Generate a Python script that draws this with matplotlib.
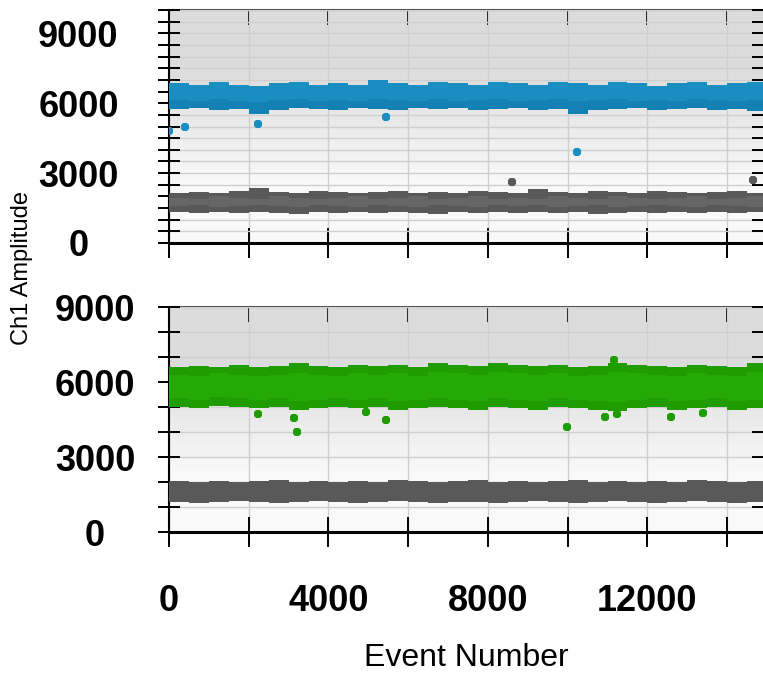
import numpy as np
import matplotlib.pyplot as plt
from matplotlib.ticker import MultipleLocator

# ---------------------------------------------------------------------------
# Data (event number vs Ch1 amplitude)
# Dense droplet clouds are kept as band edges sampled every 500 events.
# ---------------------------------------------------------------------------
BAND_X = [0, 500, 1000, 1500, 2000, 2500, 3000, 3500, 4000, 4500, 5000, 5500,
          6000, 6500, 7000, 7500, 8000, 8500, 9000, 9500, 10000, 10500, 11000,
          11500, 12000, 12500, 13000, 13500, 14000, 14500, 15000]

# top panel: positive (blue) cloud
BLUE_HI = [6850, 6800, 6900, 6800, 6750, 6850, 6900, 6800, 6850, 6800, 7000,
           6850, 6800, 6900, 6850, 6800, 6900, 6850, 6800, 6900, 6850, 6800,
           6900, 6850, 6750, 6850, 6900, 6800, 6850, 6900, 6850]
BLUE_MID = [6150, 6100, 6200, 6100, 6050, 6150, 6200, 6100, 6150, 6100, 6200,
            6150, 6100, 6200, 6100, 6150, 6200, 6100, 6150, 6200, 6100, 6150,
            6200, 6100, 6150, 6100, 6200, 6150, 6100, 6150, 6200]
BLUE_LO = [5750, 5800, 5700, 5750, 5550, 5700, 5800, 5750, 5700, 5800, 5750,
           5700, 5800, 5750, 5800, 5700, 5750, 5800, 5700, 5750, 5550, 5700,
           5750, 5800, 5700, 5750, 5800, 5700, 5750, 5650, 5700]
BLUE_OUT_X = [0, 400, 2230, 5450, 10230]
BLUE_OUT_Y = [4800, 4980, 5100, 5400, 3900]

# top panel: negative (gray) cloud
GRAY1_HI = [2150, 2200, 2150, 2250, 2350, 2200, 2150, 2250, 2200, 2150, 2200,
            2250, 2150, 2200, 2150, 2250, 2200, 2150, 2300, 2200, 2150, 2250,
            2200, 2150, 2250, 2200, 2150, 2200, 2250, 2150, 2200]
GRAY1_LIGHT_HI = [1950, 1900, 2000, 1950, 1900, 2000, 1950, 1900, 1950, 2000,
                  1900, 1950, 2000, 1900, 1950, 2000, 1900, 1950, 1900, 2000,
                  1950, 1900, 2000, 1950, 1900, 1950, 2000, 1900, 1950, 2000, 1950]
GRAY1_LIGHT_LO = [1600, 1650, 1550, 1600, 1650, 1600, 1550, 1650, 1600, 1550,
                  1650, 1600, 1550, 1650, 1600, 1550, 1650, 1600, 1650, 1550,
                  1600, 1650, 1550, 1600, 1650, 1600, 1550, 1650, 1600, 1550, 1600]
GRAY1_LO = [1350, 1300, 1350, 1300, 1350, 1300, 1250, 1350, 1300, 1350, 1300,
            1350, 1300, 1250, 1350, 1300, 1350, 1300, 1350, 1300, 1350, 1250,
            1300, 1350, 1300, 1350, 1300, 1350, 1300, 1350, 1300]
GRAY1_OUT_X = [8600, 14650]
GRAY1_OUT_Y = [2620, 2700]

# bottom panel: positive (green) cloud
GREEN_HI = [6600, 6650, 6600, 6700, 6600, 6650, 6750, 6650, 6600, 6700, 6650,
            6700, 6600, 6750, 6700, 6650, 6750, 6700, 6650, 6700, 6600, 6650,
            6750, 6700, 6650, 6600, 6700, 6650, 6600, 6750, 6650]
GREEN_CORE_HI = [6300, 6250, 6350, 6300, 6250, 6300, 6350, 6300, 6250, 6350,
                 6300, 6350, 6250, 6400, 6350, 6300, 6400, 6350, 6300, 6350,
                 6250, 6300, 6400, 6350, 6300, 6250, 6350, 6300, 6250, 6400, 6300]
GREEN_CORE_LO = [5350, 5300, 5400, 5350, 5300, 5350, 5250, 5300, 5350, 5300,
                 5350, 5250, 5300, 5350, 5300, 5250, 5350, 5300, 5250, 5350,
                 5300, 5250, 5200, 5300, 5350, 5250, 5300, 5350, 5250, 5300, 5250]
GREEN_LO = [5000, 4950, 5050, 5000, 4950, 5000, 4900, 4950, 5000, 4950, 5000,
            4900, 4950, 5000, 4950, 4900, 5000, 4950, 4900, 5000, 4950, 4900,
            4850, 4950, 5000, 4900, 4950, 5000, 4900, 4950, 4900]
GREEN_OUT_X = [2230, 3130, 3200, 4950, 5450, 9980, 10930, 11250, 12580, 13400, 11150]
GREEN_OUT_Y = [4720, 4580, 4000, 4800, 4480, 4220, 4600, 4720, 4600, 4780, 6880]

# bottom panel: negative (gray) cloud
GRAY2_HI = [2050, 2000, 2050, 2000, 2050, 2100, 2000, 2050, 2000, 2050, 2000,
            2100, 2050, 2000, 2050, 2100, 2000, 2050, 2000, 2050, 2100, 2000,
            2050, 2000, 2050, 2000, 2100, 2050, 2000, 2050, 2100]
GRAY2_LO = [1200, 1150, 1200, 1250, 1200, 1150, 1200, 1250, 1200, 1150, 1200,
            1250, 1200, 1150, 1200, 1200, 1150, 1200, 1250, 1200, 1150, 1200,
            1250, 1200, 1150, 1200, 1250, 1200, 1150, 1200, 1200]

X_MAX = 14900

TICK_FONT = dict(family=["Liberation Sans", "DejaVu Sans"], size=26, weight="bold")

C_BLUE, C_BLUE_DK = "#1a8dc1", "#1381b4"
C_GRAY, C_GRAY_LT = "#595959", "#666666"
C_GREEN, C_GREEN_LT = "#1f9c00", "#25a905"


def style_axes(ax, ymax, y_minor, ylab_pad):
    # gradient background
    ax.imshow([[0.86], [0.975]], cmap="gray", vmin=0, vmax=1, aspect="auto",
              extent=(0, 1, 0, 1), transform=ax.transAxes, zorder=0,
              interpolation="bilinear")
    ax.set_xlim(0, X_MAX)
    ax.set_ylim(0, ymax)

    ax.xaxis.set_major_locator(MultipleLocator(4000))
    ax.xaxis.set_minor_locator(MultipleLocator(2000))
    ax.yaxis.set_major_locator(MultipleLocator(3000))
    ax.yaxis.set_minor_locator(MultipleLocator(y_minor))

    ax.grid(True, which="both", color="#cfcfcf", lw=1.0, zorder=1)
    ax.tick_params(axis="y", which="both", direction="inout", length=16.5,
                   width=1.4, left=True, right=True, pad=ylab_pad)
    ax.tick_params(axis="x", which="both", direction="inout", length=21,
                   width=1.4, bottom=True, top=False, pad=27)
    for lab in ax.get_yticklabels():
        lab.set_horizontalalignment("center")
        lab.set_fontproperties(TICK_FONT)
    for lab in ax.get_xticklabels():
        lab.set_fontproperties(TICK_FONT)

    ax.spines["right"].set_visible(False)
    ax.spines["top"].set_visible(False)
    ax.spines["left"].set_linewidth(1.5)
    ax.spines["bottom"].set_linewidth(2.2)

    top = ax.secondary_xaxis("top")
    top.xaxis.set_major_locator(MultipleLocator(2000))
    top.tick_params(direction="in", length=11, width=1.4, labeltop=False)
    top.spines["top"].set_color("#555555")
    top.spines["top"].set_linewidth(1.5)


def band(ax, lo, hi, color, z):
    ax.fill_between(BAND_X, lo, hi, step="post", color=color, lw=0, zorder=z)


fig = plt.figure(figsize=(7.63, 6.74), dpi=100)
W, H = 763, 674
ax1 = fig.add_axes([169 / W, 1 - 243 / H, (W - 169) / W, (243 - 10) / H])
ax2 = fig.add_axes([169 / W, 1 - 532 / H, (W - 169) / W, (532 - 307) / H])

style_axes(ax1, 10000, 500, 57)
style_axes(ax2, 9000, 1000, 45)
ax1.tick_params(axis="x", labelbottom=False)

# top panel
band(ax1, BLUE_LO, BLUE_HI, C_BLUE, 3)
band(ax1, BLUE_LO, BLUE_MID, C_BLUE_DK, 3.1)
band(ax1, GRAY1_LO, GRAY1_HI, C_GRAY, 3)
band(ax1, GRAY1_LIGHT_LO, GRAY1_LIGHT_HI, C_GRAY_LT, 3.1)
ax1.plot(BLUE_OUT_X, BLUE_OUT_Y, "8", color=C_BLUE, ms=7, mew=0, zorder=4)
ax1.plot(GRAY1_OUT_X, GRAY1_OUT_Y, "8", color=C_GRAY, ms=7, mew=0, zorder=4)

# bottom panel
band(ax2, GREEN_LO, GREEN_HI, C_GREEN, 3)
band(ax2, GREEN_CORE_LO, GREEN_CORE_HI, C_GREEN_LT, 3.1)
band(ax2, GRAY2_LO, GRAY2_HI, C_GRAY, 3)
ax2.plot(GREEN_OUT_X, GREEN_OUT_Y, "8", color=C_GREEN, ms=7, mew=0, zorder=4)

fig.text(22 / W, 1 - 268 / H, "Ch1 Amplitude", rotation=90, ha="center",
         va="center", fontsize=17, family=["Liberation Sans", "DejaVu Sans"])
fig.text(466 / W, 1 - 658 / H, "Event Number", ha="center", va="center",
         fontsize=23, family=["Liberation Sans", "DejaVu Sans"])

fig.savefig("out.png", dpi=100)
